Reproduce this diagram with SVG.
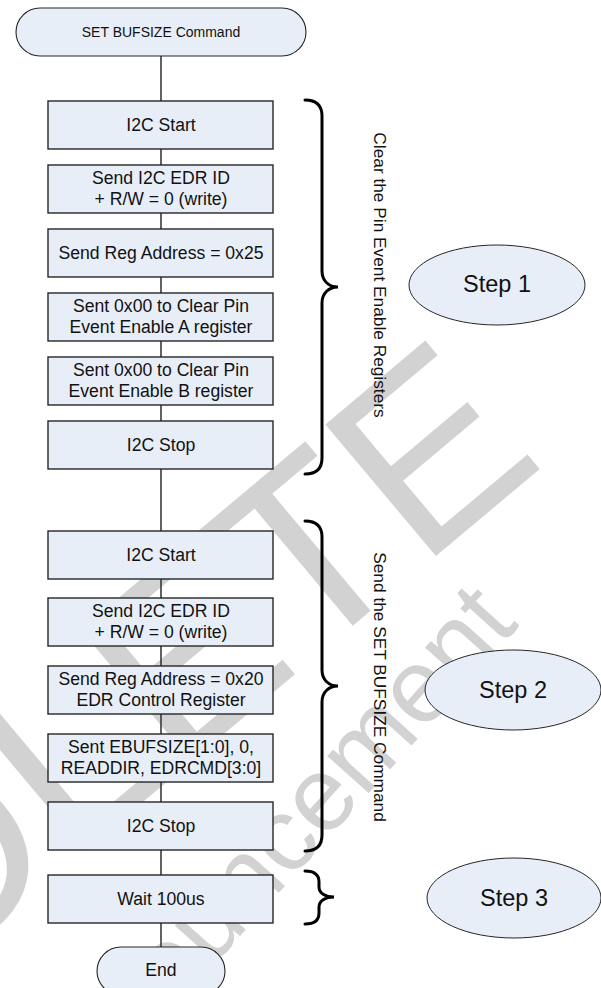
<svg xmlns="http://www.w3.org/2000/svg" width="601" height="988" viewBox="0 0 601 988">
<style>
.bg{fill:#ffffff}
.wm{font-family:"Liberation Sans",Arial,sans-serif;fill:#d2d2d2}
.box{fill:#e8eef7;stroke:#262626;stroke-width:1.4}
.term{fill:#e8eef7;stroke:#262626;stroke-width:1.1}
.ell{fill:#e8eef7;stroke:#262626;stroke-width:1}
.t{font-family:"Liberation Sans",Arial,sans-serif;font-size:17.6px;fill:#111;text-anchor:middle}
.ts{font-family:"Liberation Sans",Arial,sans-serif;font-size:14px;fill:#111;text-anchor:middle}
.tstep{font-family:"Liberation Sans",Arial,sans-serif;font-size:23.5px;fill:#111;text-anchor:middle}
.tv{font-family:"Liberation Sans",Arial,sans-serif;font-size:17.3px;fill:#111;text-anchor:middle}
.conn{stroke:#3a3a3a;stroke-width:1.6;fill:none}
.brace{stroke:#000;stroke-width:3;fill:none;stroke-linecap:round}
</style>
<rect class="bg" x="0" y="0" width="601" height="988"/>
<g id="watermark">
<text class="wm" font-size="250" text-anchor="end" transform="translate(548,462) rotate(-40)">OBSOLETE</text>
<text class="wm" font-size="105" text-anchor="end" transform="translate(520,625) rotate(-48)">announcement</text>
</g>
<g id="connectors">
<line class="conn" x1="161" y1="56" x2="161" y2="101"/>
<line class="conn" x1="161" y1="149" x2="161" y2="165"/>
<line class="conn" x1="161" y1="213" x2="161" y2="229"/>
<line class="conn" x1="161" y1="277" x2="161" y2="293"/>
<line class="conn" x1="161" y1="341" x2="161" y2="357"/>
<line class="conn" x1="161" y1="405" x2="161" y2="421"/>
<line class="conn" x1="161" y1="469" x2="161" y2="531"/>
<line class="conn" x1="161" y1="579" x2="161" y2="598"/>
<line class="conn" x1="161" y1="646" x2="161" y2="666"/>
<line class="conn" x1="161" y1="714" x2="161" y2="734"/>
<line class="conn" x1="161" y1="782" x2="161" y2="802"/>
<line class="conn" x1="161" y1="850" x2="161" y2="875"/>
<line class="conn" x1="161" y1="923" x2="161" y2="947"/>
</g>
<g id="start">
<rect class="term" x="16" y="8" width="290" height="48" rx="24" ry="24"/>
<text class="ts" x="161" y="37">SET BUFSIZE Command</text>
</g>
<g id="n1"><rect class="box" x="48" y="101" width="225" height="48"/><text class="t" x="161" y="131">I2C Start</text></g>
<g id="n2"><rect class="box" x="48" y="165" width="225" height="48"/><text class="t" x="161" y="184">Send I2C EDR ID</text><text class="t" x="161" y="205">+ R/W = 0 (write)</text></g>
<g id="n3"><rect class="box" x="48" y="229" width="225" height="48"/><text class="t" x="161" y="259">Send Reg Address = 0x25</text></g>
<g id="n4"><rect class="box" x="48" y="293" width="225" height="48"/><text class="t" x="161" y="312">Sent 0x00 to Clear Pin</text><text class="t" x="161" y="333">Event Enable A register</text></g>
<g id="n5"><rect class="box" x="48" y="357" width="225" height="48"/><text class="t" x="161" y="376">Sent 0x00 to Clear Pin</text><text class="t" x="161" y="397">Event Enable B register</text></g>
<g id="n6"><rect class="box" x="48" y="421" width="225" height="48"/><text class="t" x="161" y="451">I2C Stop</text></g>
<g id="n7"><rect class="box" x="48" y="531" width="225" height="48"/><text class="t" x="161" y="561">I2C Start</text></g>
<g id="n8"><rect class="box" x="48" y="598" width="225" height="48"/><text class="t" x="161" y="617">Send I2C EDR ID</text><text class="t" x="161" y="638">+ R/W = 0 (write)</text></g>
<g id="n9"><rect class="box" x="48" y="666" width="225" height="48"/><text class="t" x="161" y="685">Send Reg Address = 0x20</text><text class="t" x="161" y="706">EDR Control Register</text></g>
<g id="n10"><rect class="box" x="48" y="734" width="225" height="48"/><text class="t" x="161" y="753">Sent EBUFSIZE[1:0], 0,</text><text class="t" x="161" y="774">READDIR, EDRCMD[3:0]</text></g>
<g id="n11"><rect class="box" x="48" y="802" width="225" height="48"/><text class="t" x="161" y="832">I2C Stop</text></g>
<g id="n12"><rect class="box" x="48" y="875" width="225" height="48"/><text class="t" x="161" y="905">Wait 100us</text></g>
<g id="end">
<rect class="term" x="97" y="947" width="128" height="48" rx="24" ry="24"/>
<text class="t" x="161" y="976">End</text>
</g>
<g id="brace1">
<path class="brace" d="M305,100 C315,100 322,104 322,116 L322,271 C322,281 329,287 338,287 C329,287 322,293 322,303 L322,458 C322,470 315,474 305,474"/>
<text class="tv" transform="translate(374,275) rotate(90)">Clear the Pin Event Enable Registers</text>
</g>
<g id="brace2">
<path class="brace" d="M305,521 C315,521 322,525 322,537 L322,670 C322,680 329,686 338,686 C329,686 322,692 322,702 L322,835 C322,847 315,851 305,851"/>
<text class="tv" transform="translate(374,687) rotate(90)">Send the SET BUFSIZE Command</text>
</g>
<g id="brace3">
<path class="brace" d="M305,871 C313,871 319,874 319,882 L319,887 C319,893 325,897 334,897 C325,897 319,901 319,907 L319,913 C319,921 313,924 305,924"/>
</g>
<g id="step1"><ellipse class="ell" cx="497" cy="285" rx="88" ry="40"/><text class="tstep" x="497" y="292">Step 1</text></g>
<g id="step2"><ellipse class="ell" cx="513" cy="690" rx="88" ry="40"/><text class="tstep" x="513" y="698">Step 2</text></g>
<g id="step3"><ellipse class="ell" cx="514" cy="898" rx="87" ry="40"/><text class="tstep" x="514" y="906">Step 3</text></g>
</svg>
